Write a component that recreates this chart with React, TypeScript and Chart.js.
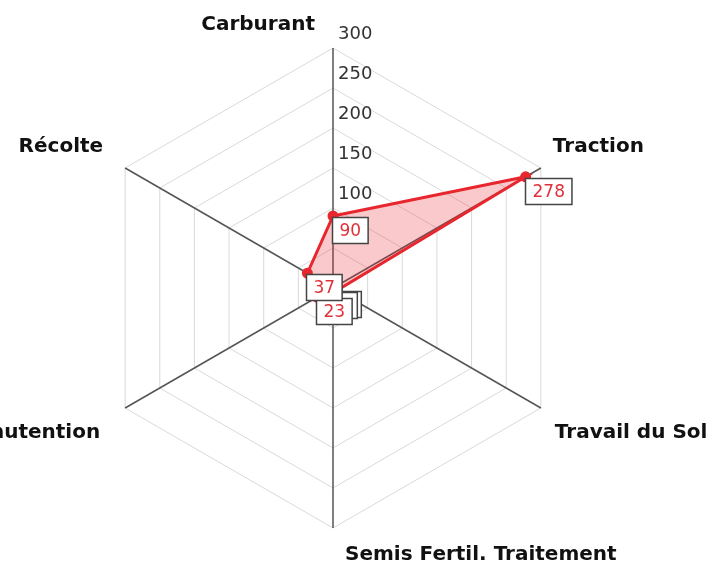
import React, { useEffect, useRef } from "react";
import { Chart, registerables } from "chart.js";

Chart.register(...registerables);

const categories = [
  "Carburant",
  "Traction",
  "Travail du Sol",
  "Semis Fertil. Traitement",
  "Manutention",
  "Récolte",
];
const values = [90, 278, 6, 4, 23, 37];
const tickValues = [50, 100, 150, 200, 250, 300];
const scaleMax = 300;
const scaleStep = 50;

const labelOffsets = [
  { dx: -18, dy: -23, align: "right" },
  { dx: 12, dy: -21, align: "left" },
  { dx: 14, dy: 25, align: "left" },
  { dx: 12, dy: 27, align: "left" },
  { dx: -25, dy: 25, align: "right" },
  { dx: -22, dy: -21, align: "right" },
];

const radarDecor = {
  id: "radarDecor",
  beforeDatasetsDraw(chart: any) {
    const scale = chart.scales.r;
    const ctx = chart.ctx;
    ctx.save();
    ctx.font = '18px "DejaVu Sans"';
    ctx.fillStyle = "#333";
    ctx.textAlign = "left";
    ctx.textBaseline = "middle";
    tickValues.forEach((v) => {
      const d = scale.getDistanceFromCenterForValue(v);
      ctx.fillText(String(v), scale.xCenter + 5, scale.yCenter - d - 14);
    });
    ctx.font = 'bold 20px "DejaVu Sans"';
    ctx.fillStyle = "#111";
    categories.forEach((c, i) => {
      const p = scale.getPointPosition(i, scale.drawingArea);
      const o = labelOffsets[i];
      ctx.textAlign = o.align;
      ctx.fillText(c, p.x + o.dx, p.y + o.dy);
    });
    ctx.restore();
  },
  afterDatasetsDraw(chart: any) {
    const ctx = chart.ctx;
    const meta = chart.getDatasetMeta(0);
    ctx.save();
    ctx.font = '17px "DejaVu Sans"';
    ctx.textAlign = "center";
    ctx.textBaseline = "middle";
    meta.data.forEach((el: any, i: number) => {
      const txt = String(values[i]);
      const w = ctx.measureText(txt).width + 14;
      const h = 26;
      const x = Math.round(el.x - 1) + 0.5;
      const y = Math.round(el.y + 1) + 0.5;
      ctx.fillStyle = "#fff";
      ctx.fillRect(x, y, w, h);
      ctx.strokeStyle = "#444";
      ctx.lineWidth = 1.5;
      ctx.strokeRect(x, y, w, h);
      ctx.fillStyle = "#e0303a";
      ctx.fillText(txt, x + w / 2, y + h / 2 + 1);
    });
    ctx.restore();
  },
};

export default function App() {
  const ref = useRef<HTMLCanvasElement | null>(null);
  useEffect(() => {
    if (!ref.current) return;
    const chart = new Chart(ref.current, {
      type: "radar",
      data: {
        labels: categories,
        datasets: [
          {
            data: values,
            borderColor: "#e8262e",
            borderWidth: 3,
            backgroundColor: "rgba(232, 38, 46, 0.25)",
            fill: true,
            pointRadius: 4,
            pointBackgroundColor: "#e8262e",
            pointBorderColor: "#e8262e",
          },
        ],
      },
      options: {
        responsive: false,
        animation: false,
        devicePixelRatio: 1,
        layout: { padding: { left: 93, right: 144, top: 48, bottom: 37 } },
        plugins: { legend: { display: false }, tooltip: { enabled: false } },
        scales: {
          r: {
            min: 0,
            max: scaleMax,
            ticks: { stepSize: scaleStep, display: false },
            grid: { color: "#d9d9d9", lineWidth: 1 },
            angleLines: { color: "#555", lineWidth: 1.5 },
            pointLabels: { display: false },
          },
        },
      },
      plugins: [radarDecor],
    });
    return () => chart.destroy();
  }, []);
  return (
    <div style={{ position: "fixed", left: 0, top: 0, width: 717, height: 565, background: "#fff" }}>
      <canvas ref={ref} width={717} height={565} />
    </div>
  );
}
